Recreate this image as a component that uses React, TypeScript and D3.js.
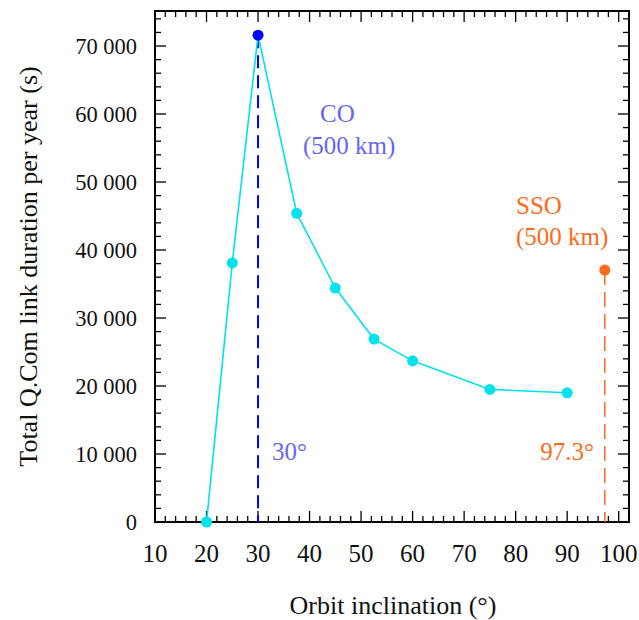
import React from "react";
import * as d3 from "d3";

const inclinations = [20, 25, 30, 37.5, 45, 52.5, 60, 75, 90];
const durations = [0, 38100, 71600, 45400, 34400, 26900, 23700, 19500, 19000];
const coInclination = 30;
const coDuration = 71600;
const ssoInclination = 97.3;
const ssoDuration = 37050;
const xTicks = [10, 20, 30, 40, 50, 60, 70, 80, 90, 100];
const yTicks = [0, 10000, 20000, 30000, 40000, 50000, 60000, 70000];

const W = 639, H = 620;
const left = 155, right = 629, top = 11, bottom = 522;

export default function App() {
  const x = d3.scaleLinear().domain([10, 102]).range([left, right]);
  const y = d3.scaleLinear().domain([0, 75150]).range([bottom, top]);
  const line = d3.line<number>().x((_, i) => x(inclinations[i])).y((d) => y(d));
  const xMinor = d3.range(10, 102.01, 2);
  const yMinor = d3.range(0, 75001, 2000);
  const fmt = (v: number) => d3.format(",")(v).replace(/,/g, " ");
  const font = "'Liberation Serif', 'Times New Roman', serif";
  const cyan = "#00e3ec";
  const fs = 25;
  return (
    <svg width={W} height={H} style={{ position: "absolute", left: 0, top: 0 }} fontFamily={font}>
      <rect x={0} y={0} width={W} height={H} fill="#fff" />
      {/* ticks */}
      {xMinor.map((t) => {
        const major = xTicks.includes(t);
        const len = major ? 11 : 6;
        return (
          <g key={"xt" + t} stroke="#000" strokeWidth={1.3}>
            <line x1={x(t)} x2={x(t)} y1={bottom} y2={bottom - len} />
            <line x1={x(t)} x2={x(t)} y1={top} y2={top + len} />
          </g>
        );
      })}
      {yMinor.map((t) => {
        const major = yTicks.includes(t);
        const len = major ? 11 : 6;
        return (
          <g key={"yt" + t} stroke="#000" strokeWidth={1.3}>
            <line x1={left} x2={left + len} y1={y(t)} y2={y(t)} />
            <line x1={right} x2={right - len} y1={y(t)} y2={y(t)} />
          </g>
        );
      })}
      <rect x={left} y={top} width={right - left} height={bottom - top} fill="none" stroke="#000" strokeWidth={2} />
      {/* tick labels */}
      {xTicks.map((t) => (
        <text key={"xl" + t} x={x(t)} y={562} textAnchor="middle" fontSize={fs} fill="#111">
          {t}
        </text>
      ))}
      {yTicks.map((t) => (
        <text key={"yl" + t} x={137} y={y(t) + 8} textAnchor="end" fontSize={22.5} fill="#111">
          {fmt(t)}
        </text>
      ))}
      <text x={393} y={614} textAnchor="middle" fontSize={26} fill="#111">
        Orbit inclination (°)
      </text>
      <text transform={`translate(37,${(top + bottom) / 2}) rotate(-90)`} textAnchor="middle" fontSize={26} fill="#111">
        Total Q.Com link duration per year (s)
      </text>
      {/* dashed guides */}
      <line x1={x(coInclination)} x2={x(coInclination)} y1={y(coDuration)} y2={bottom} stroke="#0000ff" strokeWidth={2} strokeDasharray="13,7" />
      <line x1={x(ssoInclination)} x2={x(ssoInclination)} y1={y(ssoDuration)} y2={bottom} stroke="#ff6a1a" strokeWidth={1.5} strokeDasharray="15,7" />
      {/* series */}
      <path d={line(durations) || ""} fill="none" stroke={cyan} strokeWidth={1.6} />
      {durations.map((d, i) =>
        inclinations[i] === coInclination ? null : (
          <circle key={"p" + i} cx={x(inclinations[i])} cy={y(d)} r={5.5} fill={cyan} />
        )
      )}
      <circle cx={x(coInclination)} cy={y(coDuration)} r={5.5} fill="#0000ff" />
      <circle cx={x(ssoInclination)} cy={y(ssoDuration)} r={5.5} fill="#ff6a1a" />
      {/* annotations */}
      <text x={320} y={122} fontSize={fs} fill="#6666f5">CO</text>
      <text x={303} y={154} fontSize={fs} fill="#6666f5">(500 km)</text>
      <text x={272} y={460} fontSize={fs} fill="#6666f5">30°</text>
      <text x={516} y={214} fontSize={fs} fill="#ff6a1a">SSO</text>
      <text x={516} y={245} fontSize={fs} fill="#ff6a1a">(500 km)</text>
      <text x={594} y={460} textAnchor="end" fontSize={fs} fill="#ff6a1a">97.3°</text>
    </svg>
  );
}
